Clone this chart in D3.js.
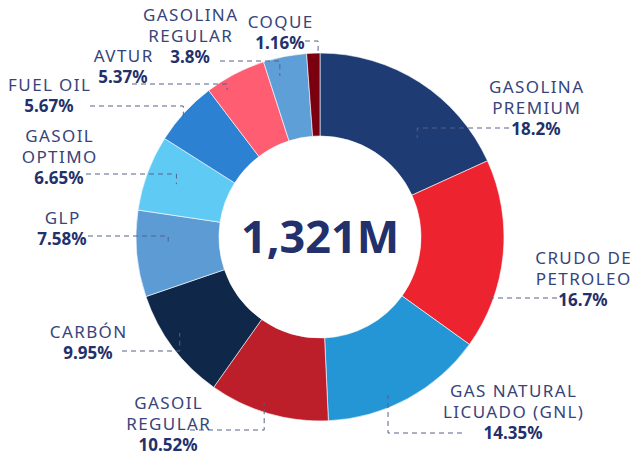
<!DOCTYPE html>
<html>
<head>
<meta charset="utf-8">
<script src="https://cdn.jsdelivr.net/npm/d3@7"></script>
<style>
  html, body { margin: 0; padding: 0; background: #fff; }
  svg { display: block; }
  .name { font-family: "Noto Sans", sans-serif; font-size: 17px; fill: #37447a; letter-spacing: 1.4px; }
  .pct { font-family: "Noto Sans", sans-serif; font-size: 17px; font-weight: 700; fill: #22306b; }
  .total { font-family: "Noto Sans", sans-serif; font-size: 45px; font-weight: 700; fill: #22306b; }
  .leader { fill: none; stroke: #56608c; stroke-width: 1; stroke-dasharray: 5,4; }
</style>
</head>
<body>
<svg id="chart" width="632" height="455"></svg>
<script>
// fuel shares, clockwise from 12 o'clock
const categories = [
  ["GASOLINA", "PREMIUM"],
  ["CRUDO DE", "PETROLEO"],
  ["GAS NATURAL", "LICUADO (GNL)"],
  ["GASOIL", "REGULAR"],
  ["CARBÓN"],
  ["GLP"],
  ["GASOIL", "OPTIMO"],
  ["FUEL OIL"],
  ["AVTUR"],
  ["GASOLINA", "REGULAR"],
  ["COQUE"]
];
const shares = [18.2, 16.7, 14.35, 10.52, 9.95, 7.58, 6.65, 5.67, 5.37, 3.8, 1.16];
const pctLabels = ["18.2%", "16.7%", "14.35%", "10.52%", "9.95%", "7.58%", "6.65%", "5.67%", "5.37%", "3.8%", "1.16%"];
const sliceColors = ["#1f3b73", "#ee2330", "#2596d5", "#bd1f2a", "#0f2749", "#5d9bd5",
                     "#5fcbf5", "#2c81d3", "#ff5d72", "#5f9fd7", "#7a0010"];
const totalLabel = "1,321M";

// label placement: text centre x, first baseline, leader y, leader end x, anchor angle (deg) and radius
const labelLayout = [
  { x: 536, y: 92.5, ly: 128, ex: 509, a: 44.4, r: 139 },
  { x: 583, y: 263.5, ly: 298, ex: 557, a: 97.9, r: 167 },
  { x: 513, y: 397, ly: 433, ex: 462, a: 156.7, r: 172 },
  { x: 168, y: 408.5, ly: 430, ex: 190, a: 198.6, r: 175 },
  { x: 88, y: 337.5, ly: 351, ex: 122, a: 235.6, r: 170 },
  { x: 62, y: 223.5, ly: 236, ex: 88, a: 267, r: 152 },
  { x: 59, y: 141.5, ly: 174, ex: 86, a: 290.2, r: 153 },
  { x: 49, y: 91, ly: 106, ex: 90, a: 310.6, r: 180 },
  { x: 123, y: 62, ly: 84, ex: 132, a: 327.7, r: 174 },
  { x: 190, y: 20.5, ly: 61, ex: 220, a: 346, r: 166 },
  { x: 280, y: 28, ly: 41, ex: 305, a: 359.4, r: 182 }
];

const svg = d3.select("#chart");
const cx = 320, cy = 237;
const outerR = 184, innerR = 101;
const lineH = 21;

const g = svg.append("g").attr("transform", `translate(${cx},${cy})`);

const pie = d3.pie().sort(null).value(d => d);
const arcs = pie(shares);
const arc = d3.arc().innerRadius(innerR).outerRadius(outerR);

g.selectAll("path.slice")
  .data(arcs)
  .join("path")
  .attr("class", "slice")
  .attr("d", arc)
  .attr("fill", (d, i) => sliceColors[i])
  .attr("stroke", "#fff")
  .attr("stroke-width", 0.6);

g.append("text")
  .attr("class", "total")
  .attr("text-anchor", "middle")
  .attr("y", 16)
  .text(totalLabel);

// leader lines
const leaders = svg.append("g");
labelLayout.forEach((l, i) => {
  const [px, py] = d3.pointRadial(l.a * Math.PI / 180, l.r);
  const ax = cx + px, ay = cy + py;
  leaders.append("path")
    .attr("class", "leader")
    .attr("d", d3.line()([[l.ex, l.ly], [ax, l.ly], [ax, ay]]));
});

// labels
const labels = svg.append("g");
categories.forEach((lines, i) => {
  const l = labelLayout[i];
  const t = labels.append("g");
  lines.forEach((s, k) => {
    t.append("text")
      .attr("class", "name")
      .attr("text-anchor", "middle")
      .attr("x", l.x + 0.7)
      .attr("y", l.y + k * lineH)
      .text(s);
  });
  t.append("text")
    .attr("class", "pct")
    .attr("text-anchor", "middle")
    .attr("x", l.x)
    .attr("y", l.y + lines.length * lineH)
    .text(pctLabels[i]);
});
</script>
</body>
</html>
